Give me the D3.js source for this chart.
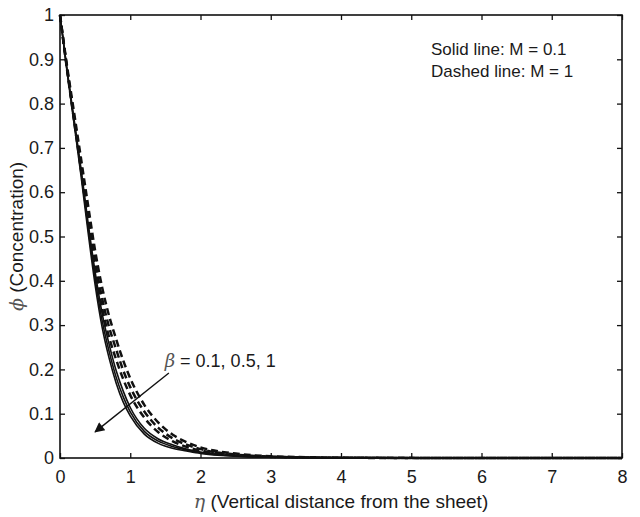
<!DOCTYPE html>
<html>
<head>
<meta charset="utf-8">
<title>Concentration profiles</title>
<script src="https://d3js.org/d3.v7.min.js"></script>
<style>
  body { margin: 0; background: #fff; }
  svg text { font-family: "Liberation Sans", Arial, sans-serif; fill: #1a1a1a; }
  .greek { font-family: "DejaVu Serif", "Liberation Serif", serif; font-style: italic; }
</style>
</head>
<body>
<svg id="chart"></svg>
<script>
// eta grid shared by all curves
const eta = [0, 0.1, 0.2, 0.3, 0.4, 0.5, 0.6, 0.7, 0.8, 0.9, 1.0, 1.2, 1.4, 1.6, 1.8, 2.0, 2.5, 3, 4, 5, 6, 7, 8];

// solid lines: M = 0.1
const solidBeta01 = [1, 0.877, 0.765, 0.652, 0.531, 0.42, 0.326, 0.256, 0.197, 0.151, 0.114, 0.067, 0.043, 0.03, 0.02, 0.0135, 0.005, 0.002, 0.0005, 0.0001, 0, 0, 0];
const solidBeta05 = [1, 0.875, 0.76, 0.645, 0.52, 0.405, 0.31, 0.24, 0.182, 0.138, 0.104, 0.06, 0.038, 0.026, 0.018, 0.012, 0.0045, 0.0018, 0.0004, 0.0001, 0, 0, 0];
const solidBeta1  = [1, 0.873, 0.755, 0.636, 0.509, 0.391, 0.295, 0.225, 0.169, 0.126, 0.095, 0.054, 0.033, 0.022, 0.016, 0.0105, 0.004, 0.0016, 0.0003, 0.0001, 0, 0, 0];

// dashed lines: M = 1
const dashedBeta01 = [1, 0.885, 0.78, 0.675, 0.57, 0.468, 0.385, 0.32, 0.268, 0.22, 0.18, 0.12, 0.08, 0.053, 0.036, 0.024, 0.01, 0.004, 0.0009, 0.0003, 0.0001, 0, 0];
const dashedBeta05 = [1, 0.88, 0.77, 0.66, 0.55, 0.445, 0.36, 0.295, 0.245, 0.198, 0.16, 0.105, 0.068, 0.045, 0.03, 0.02, 0.008, 0.003, 0.0007, 0.0002, 0.0001, 0, 0];
const dashedBeta1  = [1, 0.877, 0.762, 0.648, 0.532, 0.425, 0.338, 0.272, 0.222, 0.178, 0.142, 0.091, 0.058, 0.038, 0.025, 0.017, 0.0065, 0.0025, 0.0005, 0.0001, 0, 0, 0];

const xTicks = [0, 1, 2, 3, 4, 5, 6, 7, 8];
const yTicks = [0, 0.1, 0.2, 0.3, 0.4, 0.5, 0.6, 0.7, 0.8, 0.9, 1];

const W = 640, H = 517;
const margin = {top: 15, right: 18, bottom: 59, left: 60};
const width = W - margin.left - margin.right;
const height = H - margin.top - margin.bottom;

const svg = d3.select("#chart").attr("width", W).attr("height", H);
const g = svg.append("g").attr("transform", "translate(" + margin.left + "," + margin.top + ")");

const x = d3.scaleLinear().domain([0, 8]).range([0, width]);
const y = d3.scaleLinear().domain([0, 1]).range([height, 0]);

// axes, matlab style: ticks pointing inwards on all four sides
const tickLen = 5;
g.append("g").attr("transform", "translate(0," + height + ")")
  .call(d3.axisBottom(x).tickValues(xTicks).tickSizeInner(-tickLen).tickSizeOuter(0).tickPadding(12).tickFormat(d3.format("d")))
  .call(a => a.select(".domain").remove());
g.append("g")
  .call(d3.axisLeft(y).tickValues(yTicks).tickSizeInner(-tickLen).tickSizeOuter(0).tickPadding(6).tickFormat(d => d === 0 || d === 1 ? d3.format("d")(d) : d3.format(".1f")(d)))
  .call(a => a.select(".domain").remove());
g.append("g")
  .call(d3.axisTop(x).tickValues(xTicks).tickSizeInner(-tickLen).tickSizeOuter(0).tickFormat(""))
  .call(a => a.select(".domain").remove());
g.append("g").attr("transform", "translate(" + width + ",0)")
  .call(d3.axisRight(y).tickValues(yTicks).tickSizeInner(-tickLen).tickSizeOuter(0).tickFormat(""))
  .call(a => a.select(".domain").remove());

g.selectAll(".tick line").attr("stroke", "#111").attr("stroke-width", 1.3);
g.selectAll(".tick text").style("font-size", "18px").attr("fill", "#1a1a1a");

// curves
const line = d3.line()
  .x((d, i) => x(eta[i]))
  .y(d => y(d))
  .curve(d3.curveMonotoneX);

const curves = [
  {vals: solidBeta01, dash: null, w: 1.6},
  {vals: solidBeta05, dash: null, w: 1.6},
  {vals: solidBeta1, dash: null, w: 1.6},
  {vals: dashedBeta01, dash: "7,4", w: 2.5},
  {vals: dashedBeta05, dash: "7,4", w: 2.5},
  {vals: dashedBeta1, dash: "7,4", w: 2.5}
];

g.selectAll(".curve")
  .data(curves)
  .enter()
  .append("path")
  .attr("class", "curve")
  .attr("d", d => line(d.vals))
  .attr("fill", "none")
  .attr("stroke", "#111")
  .attr("stroke-width", d => d.w)
  .attr("stroke-dasharray", d => d.dash);

// box
g.append("rect")
  .attr("width", width).attr("height", height)
  .attr("fill", "none").attr("stroke", "#111").attr("stroke-width", 1.6);

// arrow annotation
svg.append("defs").append("marker")
  .attr("id", "head")
  .attr("viewBox", "0 0 10 10")
  .attr("refX", 9).attr("refY", 5)
  .attr("markerWidth", 14).attr("markerHeight", 10)
  .attr("markerUnits", "userSpaceOnUse")
  .attr("orient", "auto")
  .append("path").attr("d", "M0,0 L10,5 L0,10 z").attr("fill", "#111");

g.append("line")
  .attr("x1", x(1.55)).attr("y1", y(0.192))
  .attr("x2", x(0.5)).attr("y2", y(0.059))
  .attr("stroke", "#111").attr("stroke-width", 1.4)
  .attr("marker-end", "url(#head)");

const ann = g.append("text")
  .attr("x", x(1.49)).attr("y", y(0.205))
  .style("font-size", "18px");
ann.append("tspan").attr("class", "greek").attr("fill", "#555").text("β");
ann.append("tspan").text(" = 0.1, 0.5, 1");

// legend text
g.append("text").attr("x", x(5.28)).attr("y", 40).style("font-size", "17px").text("Solid line: M = 0.1");
g.append("text").attr("x", x(5.28)).attr("y", 62).style("font-size", "17px").text("Dashed line: M = 1");

// axis labels
const xl = svg.append("text")
  .attr("x", margin.left + width / 2).attr("y", 508)
  .attr("text-anchor", "middle")
  .style("font-size", "19px");
xl.append("tspan").attr("class", "greek").attr("fill", "#555").text("η");
xl.append("tspan").text(" (Vertical distance from the sheet)");

const yl = svg.append("text")
  .attr("transform", "translate(23," + (margin.top + height / 2) + ") rotate(-90)")
  .attr("text-anchor", "middle")
  .style("font-size", "19px");
yl.append("tspan").attr("class", "greek").attr("fill", "#555").text("ϕ");
yl.append("tspan").text(" (Concentration)");
</script>
</body>
</html>
